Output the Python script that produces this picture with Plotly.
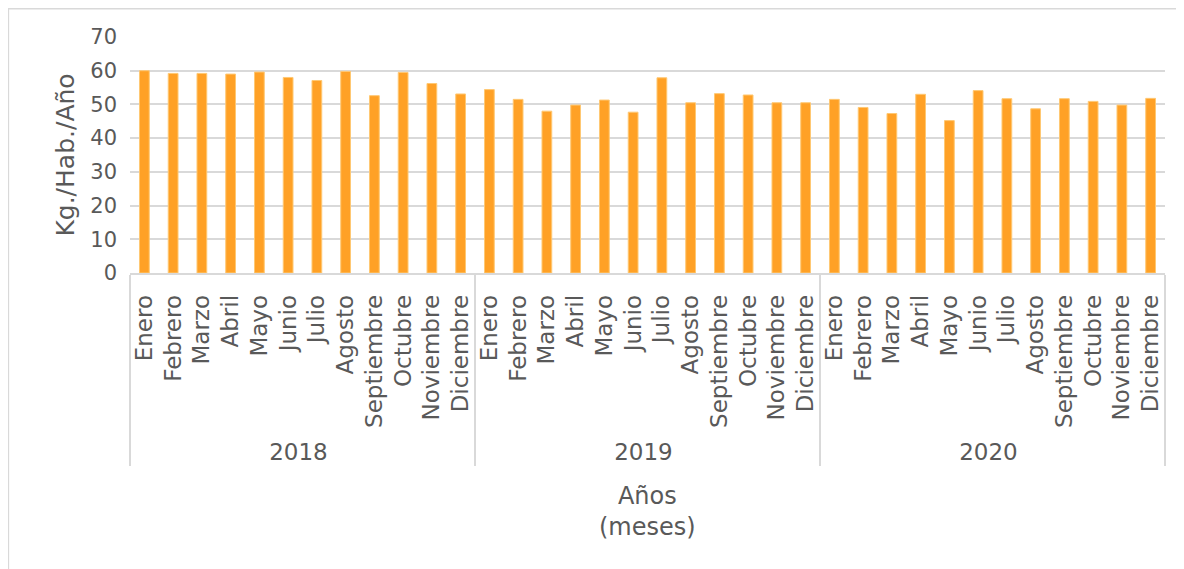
import plotly.graph_objects as go

years = ["2018", "2019", "2020"]
months = ["Enero", "Febrero", "Marzo", "Abril", "Mayo", "Junio", "Julio",
          "Agosto", "Septiembre", "Octubre", "Noviembre", "Diciembre"]
values_2018 = [60.0, 59.2, 59.2, 59.0, 59.6, 58.0, 57.1, 59.8, 52.6, 59.5, 56.2, 53.1]
values_2019 = [54.4, 51.5, 48.0, 49.8, 51.3, 47.7, 57.9, 50.5, 53.2, 52.8, 50.5, 50.5]
values_2020 = [51.5, 49.1, 47.3, 53.0, 45.2, 54.1, 51.7, 48.7, 51.7, 50.9, 49.8, 51.8]
y_ticks = [0, 10, 20, 30, 40, 50, 60, 70]

x_outer = [y for y in years for _ in months]
x_inner = months * len(years)
vals = values_2018 + values_2019 + values_2020

FONT = "DejaVu Sans"
GREY = "#595959"

fig = go.Figure(go.Bar(
    x=[x_outer, x_inner], y=vals,
    marker=dict(color="#FFA126", line=dict(color="#FFC873", width=1)),
))

fig.update_layout(
    width=1176, height=561,
    margin=dict(l=122, r=19, t=29, b=296),
    paper_bgcolor="white", plot_bgcolor="white",
    bargap=0.66,
    showlegend=False,
    font=dict(family=FONT, color=GREY, size=21),
    shapes=[dict(type="rect", xref="paper", yref="paper",
                 x0=-0.1175, x1=1.05, y0=-2.0, y1=1.12,
                 line=dict(color="#D9D9D9", width=1.5), layer="below")],
    annotations=[dict(text="Años<br>(meses)", xref="paper", yref="paper",
                      x=0.5, y=-1.01, xanchor="center", yanchor="middle",
                      showarrow=False, font=dict(family=FONT, size=24, color=GREY))],
)
fig.update_yaxes(
    range=[0, 70], tickvals=y_ticks, showgrid=True, gridcolor="#D9D9D9", gridwidth=1.5,
    zeroline=False, showline=False, ticklabelstandoff=12,
    tickfont=dict(size=21, color=GREY),
    title=dict(text="Kg./Hab./Año", font=dict(size=25, color=GREY), standoff=8),
)
fig.update_xaxes(
    type="multicategory", tickangle=-90, showline=True, linecolor="#D9D9D9", linewidth=1.5,
    showdividers=True, dividercolor="#D9D9D9", dividerwidth=1.5,
    tickfont=dict(size=23, color=GREY), showgrid=False, ticklabelstandoff=11,
)

fig.write_html("out.html")
